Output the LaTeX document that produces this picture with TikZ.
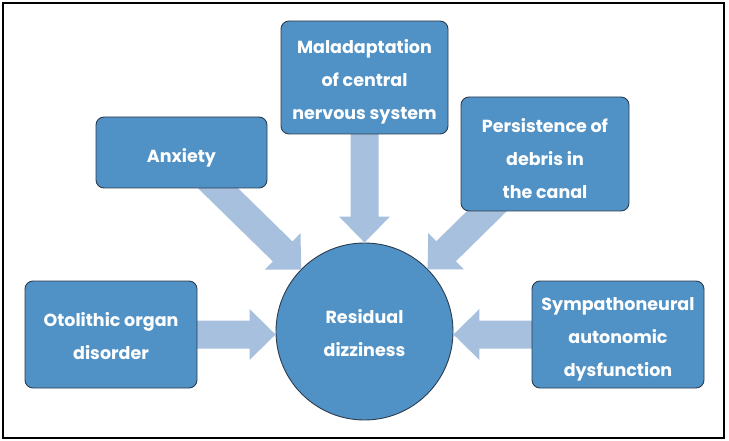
\documentclass[tikz,border=0pt]{standalone}
\usepackage{fontspec}
\setmainfont{Poppins}
\usetikzlibrary{calc}
\definecolor{boxblue}{RGB}{80,146,198}
\definecolor{arrowblue}{RGB}{167,192,222}
\definecolor{edgedark}{RGB}{45,60,78}
\newcommand{\tstrut}[1]{\rule{0pt}{#1}}
\tikzset{
  boxtextstyle/.style={text=white, font=\bfseries\fontsize{17.5}{33}\selectfont,
    align=center},
  box/.style={draw=edgedark, line width=0.9pt, fill=boxblue, rounded corners=8pt,
    boxtextstyle, inner sep=0pt, anchor=center},
  circ/.style={draw=edgedark, line width=0.9pt, fill=boxblue, circle,
    minimum size=177pt, inner sep=0pt, boxtextstyle},
  arrowfill/.style={fill=arrowblue}
}
\newcommand{\blockarr}[2]{%
  \coordinate (hb) at ($(#2)!26pt!(#1)$);
  \fill[arrowfill] ($(#1)!14pt!90:(#2)$) -- ($(hb)!14pt!-90:(#1)$)
    -- ($(hb)!25.5pt!-90:(#1)$) -- (#2) -- ($(hb)!25.5pt!90:(#1)$)
    -- ($(hb)!14pt!90:(#1)$) -- ($(#1)!14pt!-90:(#2)$) -- cycle;}
\begin{document}
\begin{tikzpicture}[x=1pt,y=-1pt]
\useasboundingbox (0,0) rectangle (729,441);
\draw[line width=1.2pt] (3,3) rectangle (724,438);
% circle
\node[circ] (res) at (364.5,331.5) {\tstrut{17.5pt}Residual\\dizziness};
% box centres
\coordinate (anx) at (181.5,152.5);
\coordinate (mal) at (364.5,77.5);
\coordinate (per) at (545,154);
\coordinate (oto) at (111,334.5);
\coordinate (sym) at (618,334.5);
% arrows
\coordinate (tanx) at ($(res.center)!88.5pt!(anx)$);
\coordinate (tper) at ($(res.center)!88.5pt!(per)$);
\coordinate (toto) at (oto -| res.west);
\coordinate (tsym) at (sym -| res.east);
\blockarr{anx}{tanx}
\blockarr{per}{tper}
\blockarr{mal}{res.north}
\blockarr{oto}{toto}
\blockarr{sym}{tsym}
% boxes
\node[box, minimum width=171pt, minimum height=71pt] (anxbox) at (anx) {\tstrut{25pt}Anxiety};
\node[box, minimum width=167pt, minimum height=113pt] (malbox) at (mal) {\tstrut{23.5pt}Maladaptation\\of central\\nervous system};
\node[box, minimum width=168pt, minimum height=114pt] (perbox) at (per) {\tstrut{23.5pt}Persistence of\\debris in\\the canal};
\node[box, minimum width=172pt, minimum height=107pt] (otobox) at (oto) {\tstrut{17.5pt}Otolithic organ\\disorder};
\node[box, minimum width=172pt, minimum height=107pt] (symbox) at (sym) {\tstrut{23.5pt}Sympathoneural\\autonomic\\dysfunction};
\end{tikzpicture}
\end{document}
